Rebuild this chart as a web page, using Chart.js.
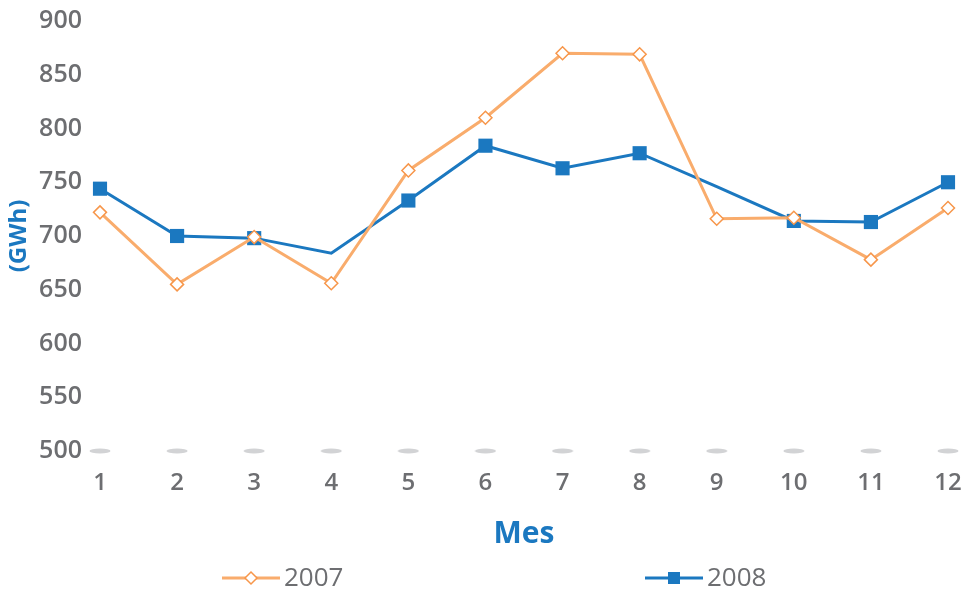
<!DOCTYPE html>
<html>
<head>
<meta charset="utf-8">
<script src="https://cdn.jsdelivr.net/npm/chart.js@4.4.1/dist/chart.umd.min.js"></script>
<style>
  html, body { margin: 0; padding: 0; background: #fff; }
  #wrap { width: 966px; height: 592px; }
</style>
</head>
<body>
<div id="wrap"><canvas id="chart" width="966" height="592"></canvas></div>
<script>
const months = ['1', '2', '3', '4', '5', '6', '7', '8', '9', '10', '11', '12'];
const values2007 = [722, 655, 699, 656, 761, 810, 870, 869, 716, 717, 678, 726];
const values2008 = [744, 700, 698, 684, 733, 784, 763, 777, 746, 714, 713, 750];
const baseline = [500, 500, 500, 500, 500, 500, 500, 500, 500, 500, 500, 500];

const orange = '#f9ac6c';
const orangeDark = '#f7964a';
const blue = '#1b78c0';
const grey = '#6d6e71';
const font = "'Open Sans', 'DejaVu Sans', sans-serif";

// small grey ellipse used as the marker on the 500 line
function ellipseMarker() {
    const c = document.createElement('canvas');
    c.width = 22; c.height = 6;
    const g = c.getContext('2d');
    g.fillStyle = '#d2d3d5';
    g.beginPath();
    g.ellipse(11, 3, 10.5, 2.6, 0, 0, Math.PI * 2);
    g.fill();
    return c;
}

// keep the plot area where the layout padding puts it
function noScalePadding(scale) {
    scale.paddingTop = 0;
    scale.paddingBottom = 0;
    scale.paddingLeft = 0;
    scale.paddingRight = 0;
}

// legend drawn by hand so the two entries can sit far apart like the original
const wideLegend = {
    id: 'wideLegend',
    afterDraw(chart, args, opts) {
        const ctx = chart.ctx;
        const y = opts.y;
        ctx.save();
        chart.data.datasets.forEach((ds, i) => {
            if (ds.hideInLegend) return;
            const x = opts.starts[i];
            ctx.strokeStyle = ds.borderColor;
            ctx.lineWidth = 3;
            ctx.beginPath();
            ctx.moveTo(x, y);
            ctx.lineTo(x + opts.lineLength, y);
            ctx.stroke();
            const cx = x + opts.lineLength / 2;
            if (ds.pointStyle === 'rectRot') {
                ctx.fillStyle = '#fff';
                ctx.strokeStyle = ds.pointBorderColor;
                ctx.lineWidth = 1.5;
                ctx.beginPath();
                ctx.moveTo(cx - 6, y);
                ctx.lineTo(cx, y - 6);
                ctx.lineTo(cx + 6, y);
                ctx.lineTo(cx, y + 6);
                ctx.closePath();
                ctx.fill();
                ctx.stroke();
            } else {
                ctx.fillStyle = ds.pointBackgroundColor;
                ctx.fillRect(cx - 6, y - 6, 12, 12);
            }
            ctx.fillStyle = grey;
            ctx.font = '500 26px ' + font;
            ctx.textBaseline = 'middle';
            ctx.fillText(ds.label, x + opts.lineLength + 4, y + 1);
        });
        ctx.restore();
    }
};

const ctx = document.getElementById('chart').getContext('2d');
new Chart(ctx, {
    type: 'line',
    data: {
        labels: months,
        datasets: [{
            label: '2007',
            data: values2007,
            borderColor: orange,
            borderWidth: 3,
            pointStyle: 'rectRot',
            pointRadius: 6.5,
            pointBackgroundColor: '#fff',
            pointBorderColor: orangeDark,
            pointBorderWidth: 1.5,
            tension: 0,
            clip: false
        }, {
            label: '2008',
            data: values2008,
            borderColor: blue,
            borderWidth: 3,
            pointStyle: 'rect',
            pointRadius: [10, 10, 10, 0, 10, 10, 10, 10, 0, 10, 10, 10],
            pointBackgroundColor: blue,
            pointBorderColor: blue,
            pointBorderWidth: 0,
            tension: 0,
            clip: false
        }, {
            label: '',
            data: baseline,
            hideInLegend: true,
            showLine: false,
            pointStyle: ellipseMarker(),
            pointRadius: 6,
            clip: false
        }]
    },
    options: {
        responsive: false,
        animation: false,
        layout: { padding: { top: 21, right: 18, bottom: 40, left: 0 } },
        plugins: {
            legend: { display: false },
            tooltip: { enabled: false },
            wideLegend: { y: 578, starts: [222, 645], lineLength: 58 }
        },
        scales: {
            x: {
                grid: { display: false, drawTicks: false },
                border: { display: false },
                ticks: { color: grey, padding: 18, font: { family: font, size: 24, weight: '600' } },
                title: {
                    display: true, text: 'Mes', color: blue,
                    padding: { top: 0, bottom: 0 },
                    font: { family: font, size: 30, weight: 'bold' }
                },
                afterFit(scale) { scale.height = 101; noScalePadding(scale); }
            },
            y: {
                min: 500, max: 900,
                grid: { display: false, drawTicks: false },
                border: { display: false },
                ticks: { stepSize: 50, color: grey, padding: 18, font: { family: font, size: 25, weight: '600' } },
                title: {
                    display: true, text: '(GWh)', color: blue,
                    padding: { top: 5, bottom: 0 },
                    font: { family: font, size: 24, weight: 'bold' }
                },
                afterFit(scale) { scale.width = 100; noScalePadding(scale); }
            }
        }
    },
    plugins: [wideLegend]
});
</script>
</body>
</html>
